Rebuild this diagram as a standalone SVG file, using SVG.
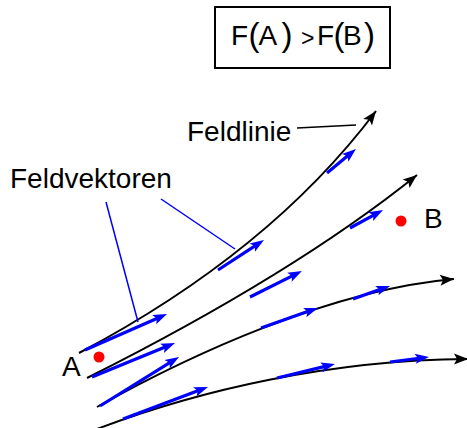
<svg xmlns="http://www.w3.org/2000/svg" width="467" height="428" viewBox="0 0 467 428">
<style>
text { font-family: "Liberation Sans", Arial, sans-serif; fill: #000; }
.lbl { font-size: 28px; }
.par { font-size: 33px; }
.line { fill: none; stroke: #000; stroke-width: 2; marker-end: url(#blackArrow); }
.vec { stroke: #0000ff; stroke-width: 3.2; marker-end: url(#blueArrow); }
.lead { stroke: #0000ff; stroke-width: 1.5; }
.dot { fill: #ff0000; }
</style>
<defs>
<marker id="blackArrow" markerUnits="userSpaceOnUse" markerWidth="20" markerHeight="16" viewBox="-16 -8 20 16" refX="0" refY="0" orient="auto">
<path d="M0,0 L-14,-5.5 L-11,0 L-14,5.5 Z" fill="#000"/>
</marker>
<marker id="blueArrow" markerUnits="userSpaceOnUse" markerWidth="20" markerHeight="16" viewBox="-10 -8 20 16" refX="0" refY="0" orient="auto">
<path d="M8,0 L-6,-5 L-3,0 L-6,5 Z" fill="#0000ff"/>
</marker>
</defs>

<g id="formula">
<rect x="215" y="7" width="175" height="61" fill="#fff" stroke="#000" stroke-width="2"/>
<text class="lbl" x="231" y="45">F</text>
<text class="par" x="248.5" y="45.5">(</text>
<text class="lbl" x="258.5" y="45">A</text>
<text class="par" x="281.5" y="45.5">)</text>
<text x="301" y="45.5" style="font-size:23px">&gt;</text>
<text class="lbl" x="317" y="45">F</text>
<text class="par" x="333.5" y="45.5">(</text>
<text class="lbl" x="343" y="45">B</text>
<text class="par" x="364" y="45.5">)</text>
</g>

<g id="connectors">
<path id="line1" class="line" d="M79,353 Q270,252 376,111"/>
<path id="line2" class="line" d="M87,378 Q294,274 417,175"/>
<path id="line3" class="line" d="M97,407 C190,355 330,290 454,279"/>
<path id="line4" class="line" d="M97,429 C200,390 330,360 468,359"/>

<line class="vec" x1="85" y1="350" x2="159.7" y2="317.2"/>
<line class="vec" x1="218" y1="270" x2="257.3" y2="244.4"/>
<line class="vec" x1="327" y1="173" x2="349.8" y2="154.1"/>
<line class="vec" x1="92" y1="377" x2="167.6" y2="346"/>
<line class="vec" x1="250" y1="297" x2="294.8" y2="274.6"/>
<line class="vec" x1="350" y1="228" x2="376" y2="213.8"/>
<line class="vec" x1="100" y1="406" x2="172.2" y2="361.2"/>
<line class="vec" x1="261" y1="328" x2="310.4" y2="310.6"/>
<line class="vec" x1="353" y1="299" x2="382.5" y2="288.6"/>
<line class="vec" x1="123" y1="419" x2="200.5" y2="389.8"/>
<line class="vec" x1="277" y1="378" x2="327.2" y2="365.9"/>
<line class="vec" x1="390" y1="362" x2="421.1" y2="358"/>

<line class="lead" x1="106" y1="202" x2="138" y2="322"/>
<line class="lead" x1="161" y1="199" x2="235" y2="249"/>
<line x1="297" y1="128" x2="356" y2="125" stroke="#000" stroke-width="1.5"/>
</g>

<g id="label-feldlinie"><text class="lbl" x="187" y="141">Feldlinie</text></g>
<g id="label-feldvektoren"><text class="lbl" x="10" y="188">Feldvektoren</text></g>
<g id="pointA"><circle class="dot" cx="99" cy="357" r="5.5"/><text class="lbl" x="62" y="376">A</text></g>
<g id="pointB"><circle class="dot" cx="401" cy="221" r="5.5"/><text class="lbl" x="424" y="228">B</text></g>
</svg>
